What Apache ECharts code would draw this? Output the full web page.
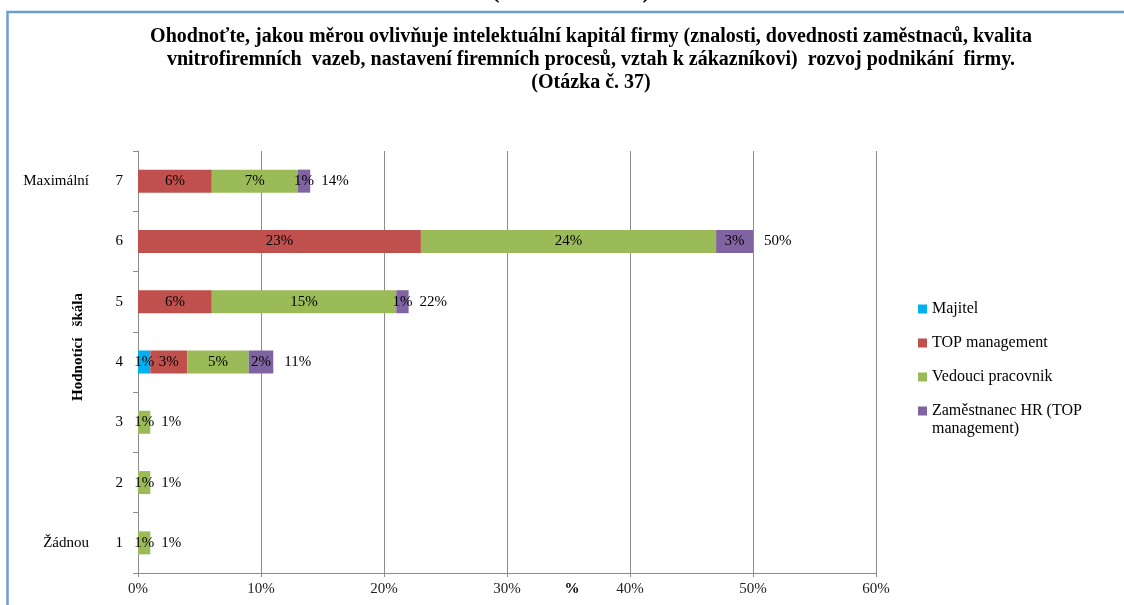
<!DOCTYPE html>
<html>
<head>
<meta charset="utf-8">
<script src="https://cdn.jsdelivr.net/npm/echarts@6/dist/echarts.min.js"></script>
<style>
  html, body { margin: 0; padding: 0; background: #fff; }
  #chart { width: 1124px; height: 605px; }
</style>
</head>
<body>
<div id="chart"></div>
<script>
// Rating scale rows, bottom (1) to top (7)
const categories = ['1', '2', '3', '4', '5', '6', '7'];
const scaleWords = { '1': 'Žádnou', '7': 'Maximální' };

// Share of respondents per rating, by role (%)
const majitel = [0, 0, 0, 1, 0, 0, 0];
const topManagement = [0, 0, 0, 3, 6, 23, 6];
const vedouciPracovnik = [1, 1, 1, 5, 15, 24, 7];
const zamestnanecHR = [0, 0, 0, 2, 1, 3, 1];
const totals = [1, 1, 1, 11, 22, 50, 14];

const xTicks = [0, 10, 20, 30, 40, 50, 60];

const seriesNames = ['Majitel', 'TOP management', 'Vedouci pracovnik', 'Zaměstnanec HR (TOP management)'];
const seriesColors = ['#00B0F0', '#C0504D', '#9BBB59', '#8064A2'];
const seriesValues = [majitel, topManagement, vedouciPracovnik, zamestnanecHR];

const serif = '"Liberation Serif", "DejaVu Serif", serif';

const chart = echarts.init(document.getElementById('chart'), null, { renderer: 'canvas' });

const stacked = seriesNames.map((name, i) => ({
  name: name,
  type: 'bar',
  stack: 'total',
  barWidth: 23,
  barGap: '-100%',
  itemStyle: { color: seriesColors[i] },
  label: {
    show: true,
    position: 'inside',
    color: '#000',
    fontFamily: serif,
    fontSize: 15,
    formatter: p => (p.value > 0 ? p.value + '%' : '')
  },
  emphasis: { disabled: true },
  data: seriesValues[i]
}));

const totalSeries = {
  name: 'Celkem',
  type: 'bar',
  barWidth: 23,
  barGap: '-100%',
  z: 1,
  itemStyle: { color: 'rgba(0,0,0,0)' },
  label: {
    show: true,
    position: 'right',
    distance: 11,
    color: '#000',
    fontFamily: serif,
    fontSize: 15,
    formatter: p => p.value + '%'
  },
  emphasis: { disabled: true },
  data: totals
};

const legendText = {
  fontFamily: serif,
  fontSize: 16,
  color: '#000',
  lineHeight: 18
};

const option = {
  backgroundColor: '#fff',
  animation: false,
  title: {
    text: 'Ohodnoťte, jakou měrou ovlivňuje intelektuální kapitál firmy (znalosti, dovednosti zaměstnaců, kvalita\nvnitrofiremních  vazeb, nastavení firemních procesů, vztah k zákazníkovi)  rozvoj podnikání  firmy.\n(Otázka č. 37)',
    left: 586,
    top: 20,
    textAlign: 'center',
    textStyle: {
      fontFamily: serif,
      fontSize: 20,
      fontWeight: 'bold',
      color: '#000',
      lineHeight: 23
    }
  },
  graphic: [
    {
      type: 'polyline',
      shape: { points: [[7.5, 605], [7.5, 12], [1124, 12]] },
      style: { stroke: '#6E9DD2', lineWidth: 2.5, fill: null },
      silent: true
    },
    {
      type: 'text',
      x: 571,
      y: 4,
      z: -1,
      style: {
        text: '(Otázka č. 37)',
        font: 'bold 27px ' + serif,
        fill: '#000',
        align: 'center',
        verticalAlign: 'bottom'
      },
      silent: true
    }
  ],
  legend: [
    {
      orient: 'vertical',
      left: 913,
      top: 295,
      itemWidth: 9,
      itemHeight: 9,
      itemGap: 16,
      icon: 'rect',
      data: seriesNames.slice(0, 3),
      textStyle: legendText
    },
    {
      // two-line entry: square sits beside the first line
      orient: 'vertical',
      left: 913,
      top: 397,
      itemWidth: 9,
      itemHeight: 27,
      icon: 'path://M0,0L9,0L9,9L0,9Z M0,27L0.001,27L0,27.001Z',
      data: [seriesNames[3]],
      formatter: n => n.replace(' (TOP ', ' (TOP\n'),
      textStyle: legendText
    }
  ],
  grid: {
    left: 138,
    right: 248,
    top: 151,
    bottom: 32,
    containLabel: false,
    outerBoundsMode: 'none'
  },
  xAxis: {
    type: 'value',
    min: 0,
    max: 60,
    interval: 10,
    name: '%',
    nameLocation: 'middle',
    nameGap: 9,
    nameMoveOverlap: false,
    nameTextStyle: {
      fontFamily: serif,
      fontSize: 15,
      fontWeight: 'bold',
      color: '#000',
      padding: [0, 0, 0, 130]
    },
    axisLine: { show: true, lineStyle: { color: '#8c8c8c', width: 1 } },
    axisTick: { show: true, length: 4, lineStyle: { color: '#8c8c8c' } },
    splitLine: { show: true, lineStyle: { color: '#8c8c8c', width: 1 } },
    axisLabel: {
      margin: 9,
      fontFamily: serif,
      fontSize: 15,
      color: '#222',
      customValues: xTicks,
      formatter: v => v + '%'
    }
  },
  yAxis: {
    type: 'category',
    data: categories,
    name: 'Hodnotící   škála',
    nameLocation: 'middle',
    nameGap: 52,
    nameMoveOverlap: false,
    nameTextStyle: {
      fontFamily: serif,
      fontSize: 15,
      fontWeight: 'bold',
      color: '#000',
      padding: [0, 0, 0, 30]
    },
    axisLine: { show: true, lineStyle: { color: '#8c8c8c', width: 1 } },
    axisTick: { show: true, length: 5, lineStyle: { color: '#8c8c8c' } },
    splitLine: { show: false },
    axisLabel: {
      margin: 15,
      fontFamily: serif,
      fontSize: 15,
      color: '#000',
      formatter: v => (scaleWords[v] ? '{w|' + scaleWords[v] + '}{n|' + v + '}' : '{n|' + v + '}'),
      rich: {
        w: { fontFamily: serif, fontSize: 15, color: '#000' },
        n: { fontFamily: serif, fontSize: 15, color: '#000', width: 34, align: 'right' }
      }
    }
  },
  series: [totalSeries].concat(stacked)
};

chart.setOption(option);
</script>
</body>
</html>
